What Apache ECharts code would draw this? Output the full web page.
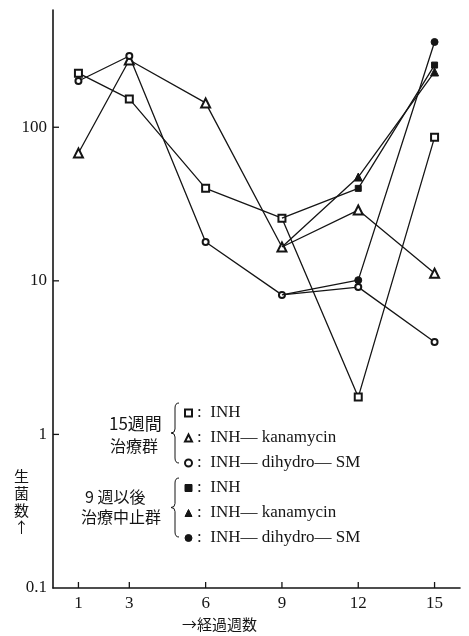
<!DOCTYPE html>
<html>
<head>
<meta charset="utf-8">
<script src="https://cdn.jsdelivr.net/npm/echarts@6/dist/echarts.min.js"></script>
<style>
  html, body { margin: 0; padding: 0; background: #fff; }
  #chart { width: 469px; height: 636px; }
</style>
</head>
<body>
<div id="chart"></div>
<script>
// Weeks elapsed (x) and viable bacteria counts (log y)
const weeks = [1, 3, 6, 9, 12, 15];
const xTickWeeks = [1, 3, 6, 9, 12, 15];
const yTickValues = [0.1, 1, 10, 100];

// 15-week treatment groups
const inh15 = [225, 153, 40, 25.6, 1.75, 86];
const kana15 = [68, 274, 144, 16.6, 28.9, 11.2];
const dhsm15 = [200, 291, 17.9, 8.1, 9.1, 4.0];

// Treatment stopped after week 9 (branches off the week-9 value)
const inhStop = [null, null, null, 25.6, 40, 254];
const kanaStop = [null, null, null, 16.6, 47.4, 229];
const dhsmStop = [null, null, null, 8.1, 10.1, 359];
const branchWeek = 9;

const seriesNames = ['a-inh', 'a-kana', 'a-dhsm', 'b-inh', 'b-kana', 'b-dhsm'];
const legendLabels = ['INH', 'INH— kanamycin', 'INH— dihydro— SM', 'INH', 'INH— kanamycin', 'INH— dihydro— SM'];

const INK = '#151515';
const SERIF = '"Liberation Serif", "DejaVu Serif", serif';
const CJK = '"Noto Sans CJK JP", sans-serif';
const TICK_LEN = 6;
const X_MIN = 0, X_MAX = 16, Y_MIN = 0.1, Y_MAX = 580;

function toPoints(values, hideBranchMarker) {
  const pts = [];
  weeks.forEach((w, i) => {
    if (values[i] == null) return;
    const item = { value: [w, values[i]] };
    if (hideBranchMarker && w === branchWeek) item.symbol = 'none';
    pts.push(item);
  });
  return pts;
}

function lineSeries(name, values, symbol, size, filled, stop) {
  return {
    name: name,
    type: 'line',
    data: toPoints(values, stop),
    symbol: symbol,
    symbolSize: size,
    showAllSymbol: true,
    color: INK,
    lineStyle: { color: INK, width: 1.3 },
    itemStyle: { color: INK, borderColor: INK, borderWidth: 1 },
    emphasis: { disabled: true },
    z: filled ? 3 : 2
  };
}

// Curly brace grouping legend rows, built from curve and line pieces
function brace(x, y0, y1) {
  const ym = (y0 + y1) / 2;
  const st = { stroke: INK, lineWidth: 1, fill: null };
  return [
    { type: 'bezierCurve', shape: { x1: x + 4, y1: y0, x2: x, y2: y0 + 5, cpx1: x, cpy1: y0 }, style: st },
    { type: 'line', shape: { x1: x, y1: y0 + 5, x2: x, y2: ym - 4 }, style: st },
    { type: 'bezierCurve', shape: { x1: x, y1: ym - 4, x2: x - 4, y2: ym, cpx1: x, cpy1: ym }, style: st },
    { type: 'bezierCurve', shape: { x1: x - 4, y1: ym, x2: x, y2: ym + 4, cpx1: x, cpy1: ym }, style: st },
    { type: 'line', shape: { x1: x, y1: ym + 4, x2: x, y2: y1 - 5 }, style: st },
    { type: 'bezierCurve', shape: { x1: x, y1: y1 - 5, x2: x + 4, y2: y1, cpx1: x, cpy1: y1 }, style: st }
  ];
}

const chart = echarts.init(document.getElementById('chart'), null, { renderer: 'canvas' });

const textGraphics = [
  ...brace(175, 403, 463),
  ...brace(175, 478, 537),
  { type: 'text', left: 109, top: 415, style: { text: '15週間', font: '17px ' + CJK, fill: INK } },
  { type: 'text', left: 110, top: 438, style: { text: '治療群', font: '16px ' + CJK, fill: INK } },
  { type: 'text', left: 85, top: 489, style: { text: '9 週以後', font: '16px ' + CJK, fill: INK } },
  { type: 'text', left: 81, top: 509, style: { text: '治療中止群', font: '16px ' + CJK, fill: INK } },
  { type: 'text', left: 14, top: 468, style: { text: '生\n菌\n数\n↑', font: '15px ' + CJK, lineHeight: 17, fill: INK, align: 'left' } },
  { type: 'text', left: 182, top: 617, style: { text: '→経過週数', font: '15px ' + CJK, fill: INK } }
];

chart.setOption({
  backgroundColor: '#fff',
  animation: false,
  grid: { left: 53, right: 9, top: 10, bottom: 48 },
  xAxis: {
    type: 'value',
    min: X_MIN,
    max: X_MAX,
    axisLine: { lineStyle: { color: INK, width: 1.6 } },
    axisTick: { show: false },
    axisLabel: { customValues: xTickWeeks, color: INK, fontFamily: SERIF, fontSize: 17, margin: 7 },
    splitLine: { show: false }
  },
  yAxis: {
    type: 'log',
    logBase: 10,
    min: Y_MIN,
    max: Y_MAX,
    axisLine: { show: true, lineStyle: { color: INK, width: 1.6 } },
    axisTick: { show: false },
    axisLabel: {
      customValues: yTickValues,
      color: INK, fontFamily: SERIF, fontSize: 17, margin: 6,
      formatter: v => String(v)
    },
    splitLine: { show: false }
  },
  legend: {
    orient: 'vertical',
    left: 179,
    top: 398,
    itemWidth: 7,
    itemHeight: 7,
    itemGap: 5,
    selectedMode: false,
    itemStyle: { color: INK, borderColor: INK, borderWidth: 1 },
    textStyle: { color: INK, fontFamily: SERIF, fontSize: 17, lineHeight: 20 },
    formatter: name => ':  ' + legendLabels[seriesNames.indexOf(name)],
    data: [
      { name: 'a-inh', icon: 'emptyRect' },
      { name: 'a-kana', icon: 'emptyTriangle' },
      { name: 'a-dhsm', icon: 'emptyCircle' },
      { name: 'b-inh', icon: 'rect' },
      { name: 'b-kana', icon: 'triangle' },
      { name: 'b-dhsm', icon: 'circle' }
    ]
  },
  graphic: textGraphics,
  series: [
    lineSeries('a-inh', inh15, 'emptyRect', 7, false, false),
    lineSeries('a-kana', kana15, 'emptyTriangle', 9, false, false),
    lineSeries('a-dhsm', dhsm15, 'emptyCircle', 6, false, false),
    lineSeries('b-inh', inhStop, 'rect', 6, true, true),
    lineSeries('b-kana', kanaStop, 'triangle', 8, true, true),
    lineSeries('b-dhsm', dhsmStop, 'circle', 7, true, true)
  ]
});

// Inward tick marks, positioned through the axis scales
const tickStyle = { stroke: INK, lineWidth: 1.3 };
const tickGraphics = [];
xTickWeeks.forEach(w => {
  const p = chart.convertToPixel({ gridIndex: 0 }, [w, Y_MIN]);
  tickGraphics.push({ type: 'line', z: 10, shape: { x1: p[0], y1: p[1], x2: p[0], y2: p[1] - TICK_LEN }, style: tickStyle });
});
yTickValues.slice(1).forEach(v => {
  const p = chart.convertToPixel({ gridIndex: 0 }, [X_MIN, v]);
  tickGraphics.push({ type: 'line', z: 10, shape: { x1: p[0], y1: p[1], x2: p[0] + TICK_LEN, y2: p[1] }, style: tickStyle });
});
chart.setOption({ graphic: textGraphics.concat(tickGraphics) }, { replaceMerge: ['graphic'] });
</script>
</body>
</html>
